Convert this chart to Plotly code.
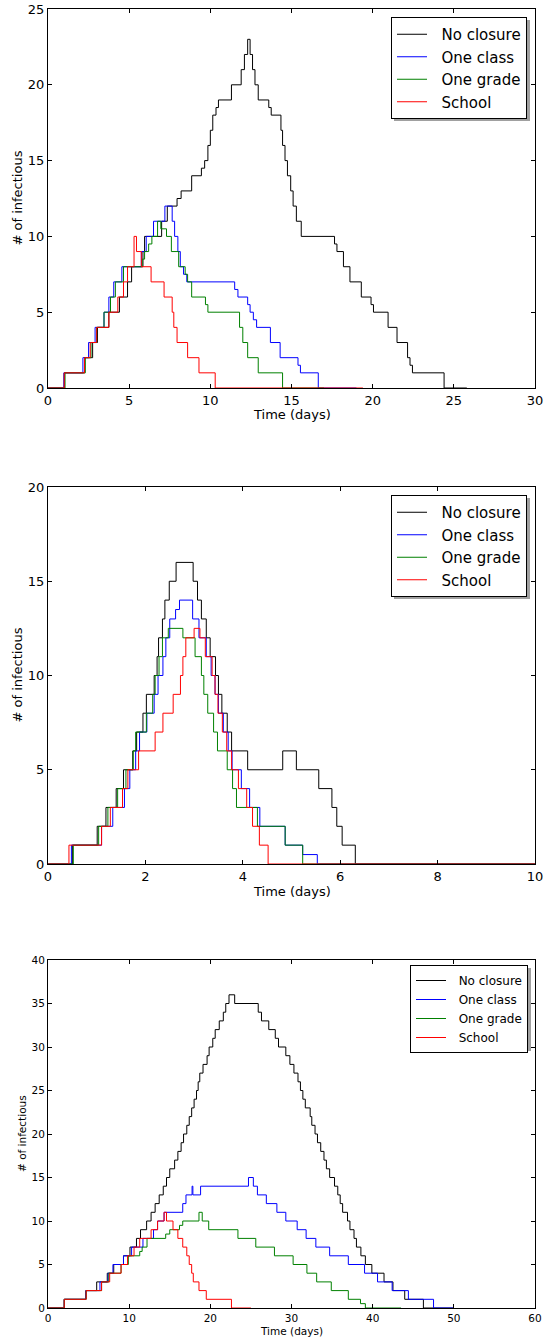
import plotly.graph_objects as go

# ---------------- Data ----------------
series_names = ["No closure", "One class", "One grade", "School"]
series_colors = ["#000000", "#0000ff", "#008000", "#ff0000"]

# Panel 1
p1_black_t = [0, 1.0, 2.25, 2.75, 3.05, 3.75, 4.4, 4.9, 5.15, 5.85, 5.95, 7.0, 7.35, 7.95, 8.2, 8.85, 9.45, 9.65, 9.85, 10.0, 10.15, 10.35, 10.5, 11.3, 11.9, 12.1, 12.3, 12.45, 12.6, 12.75, 12.95, 13.6, 13.75, 14.35, 14.45, 14.6, 14.75, 14.95, 15.1, 15.3, 15.6, 17.65, 17.8, 18.2, 18.6, 19.3, 19.9, 20.05, 20.95, 21.5, 22.15, 22.3, 22.45, 24.4, 25.8]
p1_black_v = [0, 1, 2, 3, 4, 5, 6, 7, 8, 9, 10, 11, 12, 12.5, 13, 14, 14.5, 15, 16, 17, 18, 18.5, 19, 20, 21, 22, 23, 22, 21, 20, 19, 18.5, 18, 17, 16, 15, 14, 13, 12, 11, 10, 9.5, 9, 8, 7, 6, 5.5, 5, 4, 3, 2, 1.5, 1, 0, 0]
p1_blue_t = [0, 0.98, 2.15, 2.5, 2.9, 3.45, 3.75, 4.05, 4.55, 5.75, 6.05, 6.5, 7.2, 7.65, 7.8, 8.0, 8.15, 8.35, 8.55, 11.5, 11.7, 12.3, 12.45, 12.65, 12.85, 13.7, 14.3, 15.4, 15.55, 16.65, 19.0]
p1_blue_v = [0, 1, 2, 3, 4, 5, 6, 7, 8, 9, 10, 11, 12, 11, 10, 9, 8, 7.5, 7, 6.5, 6, 5.5, 5, 4.5, 4, 3, 2, 1.5, 1, 0, 0]
p1_green_t = [0, 1.05, 2.3, 2.65, 3.0, 3.45, 3.85, 4.15, 4.65, 5.8, 5.95, 6.2, 6.4, 6.75, 6.95, 7.3, 7.6, 8.05, 8.45, 8.6, 8.85, 9.7, 9.85, 11.8, 12.0, 12.3, 12.95, 14.45, 17.0]
p1_green_v = [0, 1, 2, 3, 4, 5, 6, 7, 8, 8.5, 9, 9.5, 10, 11, 10.5, 10, 9, 8, 7.5, 7, 6, 5.5, 5, 4, 3, 2, 1, 0, 0]
p1_red_t = [0, 1.0, 2.25, 2.6, 3.0, 3.75, 4.3, 4.65, 4.9, 5.3, 5.45, 5.75, 6.35, 7.15, 7.65, 7.75, 7.95, 8.6, 9.3, 10.3, 19.4]
p1_red_v = [0, 1, 2, 3, 4, 5, 6, 7, 8, 10, 9, 8, 7, 6, 5, 4, 3, 2, 1, 0, 0]

# Panel 2
p2_black_t = [0, 0.5, 1.01, 1.19, 1.4, 1.55, 1.74, 1.82, 1.95, 2.02, 2.18, 2.24, 2.27, 2.35, 2.4, 2.49, 2.63, 2.98, 3.07, 3.15, 3.25, 3.33, 3.44, 3.5, 3.57, 3.68, 3.77, 4.1, 4.82, 5.1, 5.56, 5.83, 5.93, 6.04, 6.31, 10.0]
p2_black_v = [0, 1, 2, 3, 4, 5, 6, 7, 8, 9, 10, 11, 12, 13, 14, 15, 16, 15, 14, 13, 12, 11, 10, 9, 8, 7, 6, 5, 6, 5, 4, 3, 2, 1, 0, 0]
p2_blue_t = [0, 0.48, 1.1, 1.33, 1.57, 1.68, 1.8, 1.88, 2.03, 2.18, 2.26, 2.36, 2.42, 2.5, 2.62, 2.7, 2.97, 3.1, 3.25, 3.35, 3.43, 3.5, 3.6, 3.7, 3.78, 3.97, 4.14, 4.35, 4.87, 5.23, 5.53, 10.0]
p2_blue_v = [0, 1, 2, 3, 4, 5, 6, 7, 8, 9, 10, 11, 12, 13, 13.5, 14, 13, 12, 11, 10, 9, 8, 7, 6, 5, 4, 3, 2, 1, 0.5, 0, 0]
p2_green_t = [0, 0.52, 1.04, 1.23, 1.43, 1.6, 1.75, 1.8, 2.02, 2.15, 2.2, 2.28, 2.35, 2.47, 2.77, 3.02, 3.15, 3.2, 3.28, 3.4, 3.48, 3.68, 3.79, 3.87, 4.3, 4.87, 5.23, 10.0]
p2_green_v = [0, 1, 2, 3, 4, 5, 6, 7, 8, 9, 10, 11, 12, 12.5, 12, 11, 10, 9, 8, 7, 6, 5, 4, 3, 2, 1, 0, 0]
p2_red_t = [0, 0.43, 1.1, 1.28, 1.53, 1.64, 1.86, 2.2, 2.36, 2.57, 2.72, 2.77, 2.83, 3.0, 3.12, 3.23, 3.37, 3.43, 3.49, 3.58, 3.67, 3.77, 3.91, 4.08, 4.2, 4.34, 4.52, 10.0]
p2_red_v = [0, 1, 2, 3, 4, 5, 6, 7, 8, 9, 10, 11, 12, 12.5, 12, 11, 10, 9, 8, 7, 6, 5, 4, 3, 2, 1, 0, 0]

# Panel 3
p3_black_t = [0, 2.0, 4.66, 6.0, 7.3, 8.1, 9.3, 10.1, 10.9, 11.4, 12.15, 12.7, 13.2, 13.7, 14.2, 14.6, 15.0, 15.6, 16.0, 16.4, 16.7, 17.1, 17.4, 17.7, 18.0, 18.3, 18.5, 18.7, 19.1, 19.6, 19.85, 20.3, 20.6, 21.1, 21.6, 21.9, 22.3,
              23.0, 25.9, 26.3, 27.2, 28.0, 28.4, 29.3, 29.8, 30.3, 30.8, 31.1, 31.4, 31.7, 32.3, 32.5, 32.9, 33.2, 33.6, 34.0, 34.3, 34.7, 35.3, 35.7, 36.0, 36.3, 36.9, 37.2, 37.7, 38.0, 38.55, 39.1, 39.9, 41.4, 42.5, 43.95, 46.25, 50.0]
p3_black_v = [0, 1, 2, 3, 4, 5, 6, 7, 8, 9, 10, 11, 12, 13, 14, 15, 16, 17, 18, 19, 20, 21, 22, 23, 24, 25, 26, 27, 28, 29, 30, 31, 32, 33, 34, 35, 36,
              35, 34, 33, 32, 31, 30, 29, 28, 27, 26, 25, 24, 23, 22, 21, 20, 19, 18, 17, 16, 15, 14, 13, 12, 11, 10, 9, 8, 7, 6, 5, 4, 3, 2, 1, 0, 0]
p3_blue_t = [0, 2.0, 4.66, 6.4, 7.4, 8.0, 9.3, 10.3, 11.7, 13.0, 13.5, 14.3, 16.6, 17.0, 17.75, 17.85, 18.8, 24.7, 25.3, 25.8, 26.9, 28.2, 29.3, 30.7, 31.8, 33.0, 34.7, 37.0, 39.0, 40.6, 42.4, 44.4, 47.5, 50.0]
p3_blue_v = [0, 1, 2, 3, 4, 5, 6, 7, 8, 9, 10, 11, 12, 13, 14, 13, 14, 15, 14, 13, 12, 11, 10, 9, 8, 7, 6, 5, 4, 3, 2, 1, 0, 0]
p3_green_t = [0, 2.0, 4.7, 6.6, 7.5, 9.0, 9.9, 11.3, 11.6, 12.2, 14.5, 15.0, 16.2, 16.6, 18.6, 19.0, 19.8, 23.4, 25.6, 27.9, 30.2, 31.9, 33.1, 34.9, 37.0, 38.5, 39.1, 43.5]
p3_green_v = [0, 1, 2, 3, 4, 5, 6, 6.5, 7, 8, 8.5, 9, 9.5, 10, 11, 10, 9, 8, 7, 6, 5, 4, 3, 2, 1, 0.5, 0, 0]
p3_red_t = [0, 2.0, 4.7, 6.6, 7.6, 9.0, 9.8, 10.6, 11.3, 12.7, 13.5, 14.3, 14.6, 15.4, 16.0, 16.6, 17.1, 17.4, 17.7, 17.9, 18.6, 19.5, 22.6, 25.0]
p3_red_v = [0, 1, 2, 3, 4, 5, 6, 7, 8, 9, 10, 11, 10, 9, 8, 7, 6, 5, 4, 3, 2, 1, 0, 0]

x_title = "Time (days)"
y_title = "# of infectious"

panels = [
    dict(data=[(p1_black_t, p1_black_v), (p1_blue_t, p1_blue_v), (p1_green_t, p1_green_v), (p1_red_t, p1_red_v)],
         xr=[0, 30], xd=5, yr=[0, 25], yd=5, font=13, lfont=15),
    dict(data=[(p2_black_t, p2_black_v), (p2_blue_t, p2_blue_v), (p2_green_t, p2_green_v), (p2_red_t, p2_red_v)],
         xr=[0, 10], xd=2, yr=[0, 20], yd=5, font=13, lfont=15),
    dict(data=[(p3_black_t, p3_black_v), (p3_blue_t, p3_blue_v), (p3_green_t, p3_green_v), (p3_red_t, p3_red_v)],
         xr=[0, 60], xd=10, yr=[0, 40], yd=5, font=10.5, lfont=12),
]

W, H = 544, 1341
# pixel geometry of plot areas (left, right, top, bottom)
px_boxes = [(48, 535, 9, 388), (48, 535, 487, 864), (48, 535, 960, 1308)]
# legend boxes as drawn (left, right, top, bottom) in pixels
legend_boxes = [(391, 527, 17, 118), (391, 527, 495, 596), (414, 528, 965, 1048)]
# axis title positions (x-title centre y, y-title centre x)
xtitle_y = [414, 891, 1331]
ytitle_x = [17, 17, 22]

fig = go.Figure()
FONT = "DejaVu Sans"
GAP = "\u00a0\u00a0"

for i, p in enumerate(panels):
    k = "" if i == 0 else str(i + 1)
    leg = "legend" if i == 0 else f"legend{i+1}"
    for j, (t, v) in enumerate(p["data"]):
        fig.add_trace(go.Scatter(
            x=t, y=v, mode="lines", name=GAP + series_names[j],
            line=dict(color=series_colors[j], width=1, shape="hv"),
            xaxis="x" + k, yaxis="y" + k, legend=leg, hoverinfo="skip",
        ))
    l, r, tp, bt = px_boxes[i]
    xdom = [l / W, r / W]
    ydom = [1 - bt / H, 1 - tp / H]
    common = dict(showline=True, linecolor="black", linewidth=1, mirror="ticks",
                  ticks="inside", ticklen=4, tickcolor="black", showgrid=False,
                  zeroline=False, automargin=False,
                  tickfont=dict(family=FONT, size=p["font"], color="black"))
    fig.update_layout(**{
        "xaxis" + k: dict(domain=xdom, range=p["xr"], dtick=p["xd"], anchor="y" + k, **common),
        "yaxis" + k: dict(domain=ydom, range=p["yr"], dtick=p["yd"], anchor="x" + k, **common),
    })
    # axis titles
    fig.add_annotation(text=x_title, xref="paper", yref="paper",
                       x=(l + r) / 2 / W, y=1 - xtitle_y[i] / H,
                       xanchor="center", yanchor="middle", showarrow=False,
                       font=dict(family=FONT, size=p["font"], color="black"))
    fig.add_annotation(text=y_title, xref="paper", yref="paper",
                       x=ytitle_x[i] / W, y=1 - (tp + bt) / 2 / H, textangle=-90,
                       xanchor="center", yanchor="middle", showarrow=False,
                       font=dict(family=FONT, size=p["font"], color="black"))
    lx0, lx1, ly0, ly1 = legend_boxes[i]
    fig.update_layout(**{
        leg: dict(x=lx1 / W, xanchor="right", y=1 - ly0 / H, yanchor="top",
                  bgcolor="white", bordercolor="black", borderwidth=1,
                  font=dict(family=FONT, size=p["lfont"], color="black"),
                  tracegroupgap=0, itemwidth=30)
    })
    # legend drop shadow
    fig.add_shape(type="rect", xref="paper", yref="paper",
                  x0=(lx0 + 3) / W, x1=(lx1 + 3) / W,
                  y0=1 - (ly1 + 3) / H, y1=1 - (ly0 + 3) / H,
                  fillcolor="#a0a0a0", line=dict(width=0), layer="above")

fig.update_layout(template="none", width=W, height=H, autosize=False,
                  margin=dict(l=0, r=0, t=0, b=0, autoexpand=False),
                  paper_bgcolor="white", plot_bgcolor="white",
                  font=dict(family=FONT, color="black"), hovermode=False)

fig.write_html("out.html", config={"displayModeBar": False, "staticPlot": True},
               post_script="document.body.style.margin='0';document.body.style.overflow='hidden';")
